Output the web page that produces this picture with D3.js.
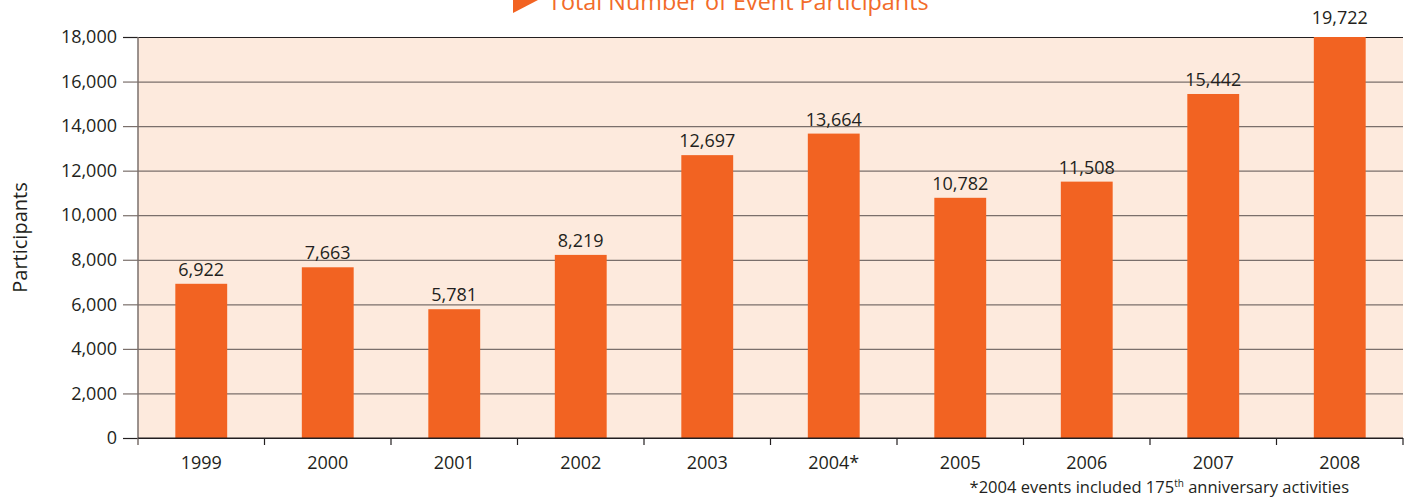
<!DOCTYPE html>
<html>
<head>
<meta charset="utf-8">
<script src="https://cdn.jsdelivr.net/npm/d3@7"></script>
<style>
  body { margin: 0; background: #fff; }
  text { font-family: "Open Sans", sans-serif; fill: #231f20; }
</style>
</head>
<body>
<div class="chart-container"></div>
<script>
// chart values
const years = ["1999", "2000", "2001", "2002", "2003", "2004*", "2005", "2006", "2007", "2008"];
const participants = [6922, 7663, 5781, 8219, 12697, 13664, 10782, 11508, 15442, 19722];
const yTicks = [0, 2000, 4000, 6000, 8000, 10000, 12000, 14000, 16000, 18000];
const titleText = "Total Number of Event Participants";
const yLabel = "Participants";

const width = 1411, height = 500;
const margin = {top: 37, right: 8, bottom: 62, left: 138};
const plotW = width - margin.left - margin.right;
const plotH = height - margin.top - margin.bottom;
const yMax = 18000;

const orange = "#f26322";
const gridColor = "#7a6f6b";

const svg = d3.select(".chart-container")
  .append("svg")
  .attr("width", width)
  .attr("height", height);

const xScale = d3.scaleBand()
  .domain(years)
  .range([0, plotW])
  .paddingInner(0.59)
  .paddingOuter(0.295);

const yScale = d3.scaleLinear()
  .domain([0, yMax])
  .range([plotH, 0]);

const g = svg.append("g")
  .attr("transform", "translate(" + margin.left + "," + margin.top + ")");

// peach background
g.append("rect")
  .attr("width", plotW)
  .attr("height", plotH)
  .attr("fill", "#fdeadd");

// gridlines
const gridG = g.append("g")
  .call(d3.axisLeft(yScale).tickValues(yTicks).tickSize(-plotW).tickFormat(""));
gridG.select(".domain").remove();
gridG.selectAll(".tick line")
  .attr("stroke", (d) => (d === 0 || d === yMax) ? "#231f20" : gridColor)
  .attr("stroke-width", 1.2);

// left ticks + labels
const yAxisG = g.append("g")
  .call(d3.axisLeft(yScale).tickValues(yTicks).tickSize(15).tickPadding(6).tickFormat(d3.format(",")));
yAxisG.select(".domain").remove();
yAxisG.selectAll(".tick line")
  .attr("stroke", (d) => (d === 0 || d === yMax) ? "#231f20" : gridColor)
  .attr("stroke-width", 1.2);
yAxisG.selectAll(".tick text")
  .attr("font-size", 18)
  .attr("fill", "#231f20");

// vertical axis line
g.append("line")
  .attr("x1", 0).attr("x2", 0)
  .attr("y1", 0).attr("y2", plotH + 7)
  .attr("stroke", gridColor)
  .attr("stroke-width", 1.5);

// clip bars to plot area (2008 overshoots the axis max)
svg.append("clipPath")
  .attr("id", "plotClip")
  .append("rect")
  .attr("width", plotW)
  .attr("height", plotH);

g.append("g")
  .attr("clip-path", "url(#plotClip)")
  .selectAll("rect")
  .data(participants)
  .join("rect")
  .attr("x", (d, i) => xScale(years[i]))
  .attr("y", (d) => yScale(d))
  .attr("width", xScale.bandwidth())
  .attr("height", (d) => plotH - yScale(d))
  .attr("fill", orange);

// value labels
g.selectAll(".val")
  .data(participants)
  .join("text")
  .attr("class", "val")
  .attr("x", (d, i) => xScale(years[i]) + xScale.bandwidth() / 2)
  .attr("y", (d) => d > yMax ? yScale(yMax) - 13 : yScale(d) - 8)
  .attr("text-anchor", "middle")
  .attr("font-size", 18)
  .attr("fill", "#231f20")
  .text((d) => d3.format(",")(d));

// x axis: ticks on band boundaries
const xAxisG = g.append("g")
  .attr("transform", "translate(0," + plotH + ")");
xAxisG.append("line")
  .attr("x1", 0).attr("x2", plotW)
  .attr("stroke", "#231f20")
  .attr("stroke-width", 1.2);
const bounds = years.map((y) => xScale(y) - xScale.step() * xScale.paddingInner() / 2).slice(1).concat([plotW]);
xAxisG.selectAll(".xtick")
  .data(bounds)
  .join("line")
  .attr("class", "xtick")
  .attr("x1", (d) => d).attr("x2", (d) => d)
  .attr("y1", 0).attr("y2", 7)
  .attr("stroke", "#231f20")
  .attr("stroke-width", 1.2);
xAxisG.selectAll(".xlabel")
  .data(years)
  .join("text")
  .attr("class", "xlabel")
  .attr("x", (d) => xScale(d) + xScale.bandwidth() / 2)
  .attr("y", 31)
  .attr("text-anchor", "middle")
  .attr("font-size", 18)
  .text((d) => d);

// y axis title
svg.append("text")
  .attr("transform", "translate(27," + (margin.top + plotH / 2) + ") rotate(-90)")
  .attr("text-anchor", "middle")
  .attr("font-size", 20)
  .text(yLabel);

// title (cut off at the top edge, as in the source)
svg.append("path")
  .attr("d", "M513,-13 L513,13 L538,0 Z")
  .attr("fill", orange);
svg.append("text")
  .attr("x", 548)
  .attr("y", 10)
  .attr("font-size", 23.4)
  .style("fill", "#f26b2a")
  .text(titleText);

// footnote
const foot = svg.append("text")
  .attr("x", 1349)
  .attr("y", 493)
  .attr("text-anchor", "end")
  .attr("font-size", 16.5);
foot.append("tspan").text("*2004 events included 175");
foot.append("tspan").attr("dy", -6).attr("font-size", 10).text("th");
foot.append("tspan").attr("dy", 6).text(" anniversary activities");
</script>
</body>
</html>
